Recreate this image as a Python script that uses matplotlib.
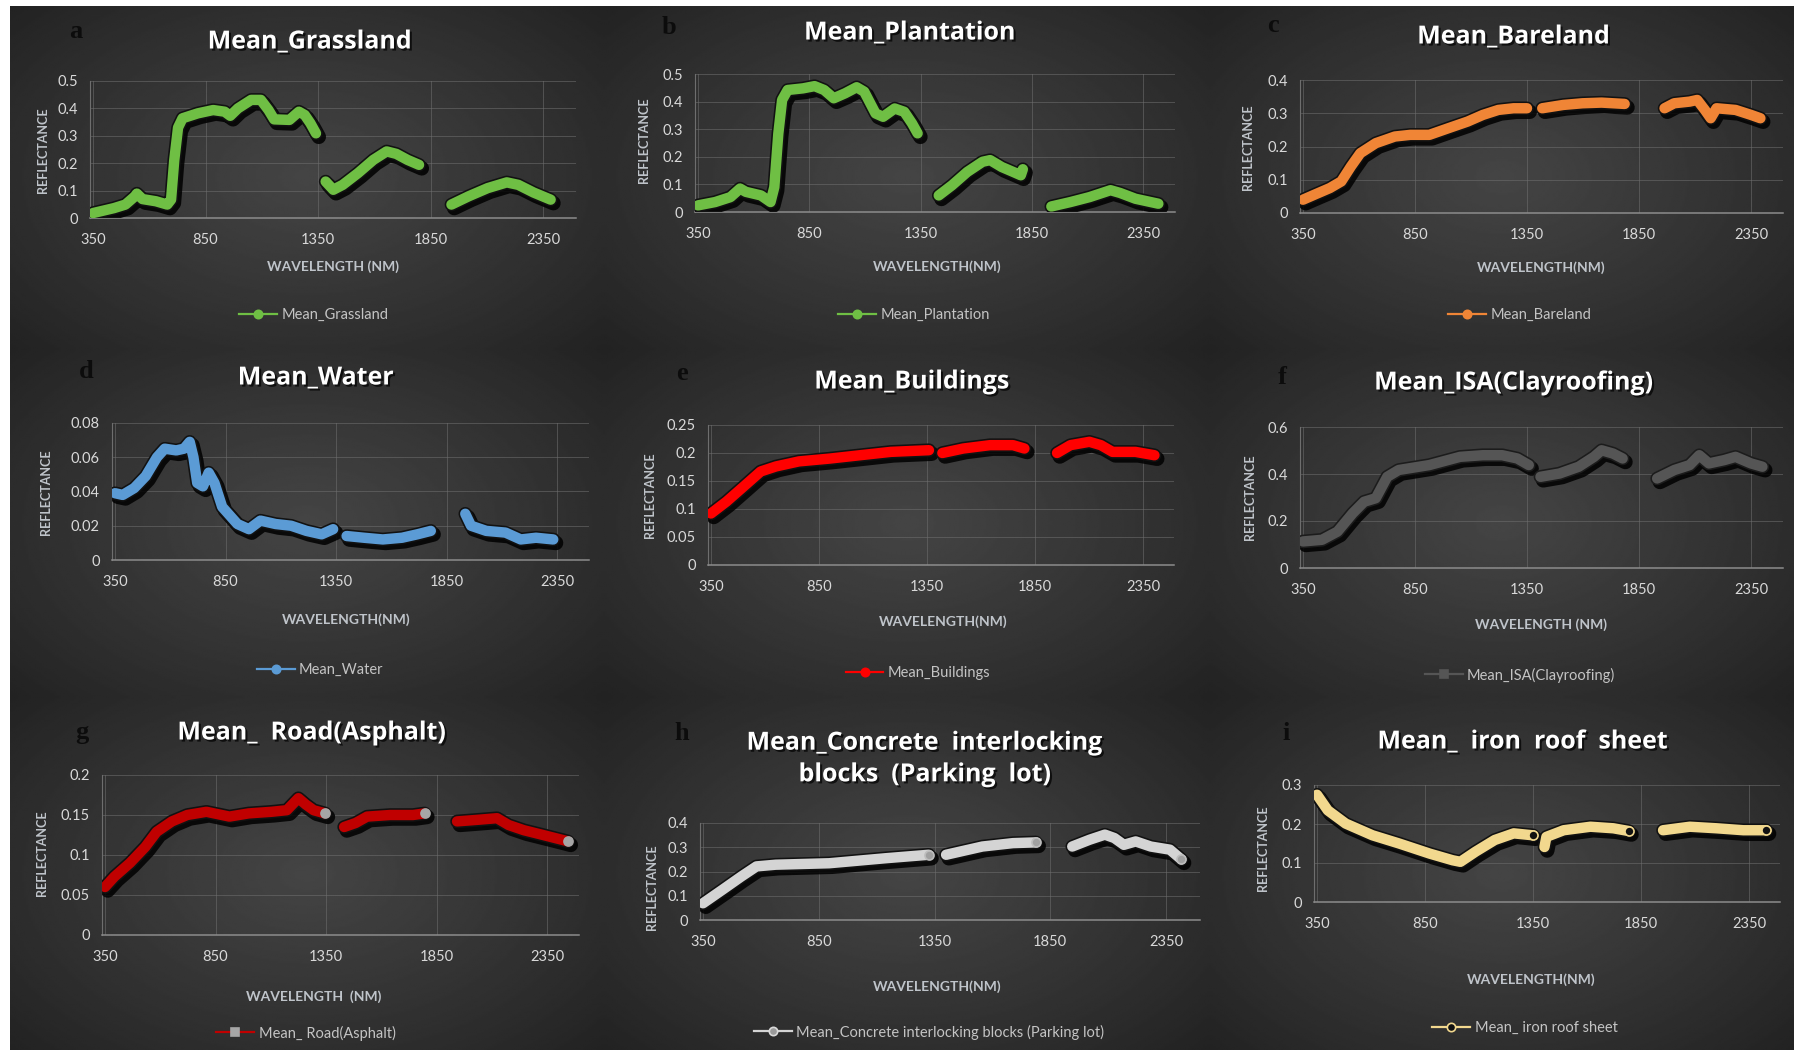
import numpy as np
import matplotlib
matplotlib.use('Agg')
import matplotlib.pyplot as plt
import matplotlib.patheffects as pe
from matplotlib.lines import Line2D

nan = np.nan
W, H = 1794, 1050

# mean reflectance spectra, NaN marks the removed water absorption bands
grass_wl = [350, 443, 494, 536, 545, 570, 630, 680, 697, 711, 728, 748, 816, 884, 935, 960, 994, 1053, 1096, 1130,
            1155, 1223, 1265, 1291, 1316, 1341, nan,
            1384, 1418, 1460, 1528, 1596, 1655, 1698, 1748, 1799, nan,
            1943, 2019, 2104, 2189, 2240, 2308, 2384]
grass_refl = [0.018, 0.036, 0.049, 0.079, 0.089, 0.069, 0.061, 0.049, 0.067, 0.21, 0.33, 0.364, 0.382, 0.394, 0.388,
              0.373, 0.40, 0.431, 0.431, 0.394, 0.36, 0.358, 0.388, 0.376, 0.346, 0.309, nan,
              0.133, 0.103, 0.121, 0.164, 0.212, 0.243, 0.234, 0.212, 0.194, nan,
              0.049, 0.079, 0.109, 0.13, 0.121, 0.093, 0.067]

plant_wl = [350, 427, 496, 539, 565, 633, 676, 693, 711, 728, 753, 822, 874, 917, 960, 1011, 1063, 1097, 1148, 1182,
            1234, 1277, 1312, 1337, nan,
            1432, 1492, 1560, 1629, 1663, 1715, 1767, 1801, 1810, nan,
            1938, 2024, 2110, 2204, 2247, 2316, 2419]
plant_refl = [0.024, 0.036, 0.054, 0.085, 0.073, 0.06, 0.036, 0.09, 0.284, 0.406, 0.442, 0.448, 0.456, 0.442, 0.412,
              0.43, 0.452, 0.436, 0.357, 0.345, 0.375, 0.363, 0.321, 0.285, nan,
              0.06, 0.097, 0.145, 0.182, 0.188, 0.163, 0.145, 0.133, 0.155, nan,
              0.02, 0.036, 0.054, 0.079, 0.069, 0.048, 0.03]

bare_wl = [350, 401, 470, 521, 564, 606, 675, 760, 829, 914, 999, 1085, 1153, 1222, 1290, 1350, nan,
           1418, 1512, 1598, 1683, 1786, nan,
           1964, 2007, 2076, 2110, 2144, 2170, 2196, 2281, 2350, 2392]
bare_refl = [0.04, 0.055, 0.075, 0.095, 0.14, 0.18, 0.21, 0.23, 0.235, 0.235, 0.255, 0.275, 0.295, 0.31, 0.315, 0.315,
             nan,
             0.315, 0.325, 0.33, 0.332, 0.328, nan,
             0.315, 0.33, 0.335, 0.34, 0.31, 0.285, 0.315, 0.31, 0.295, 0.285]

water_wl = [350, 385, 437, 489, 540, 575, 627, 662, 688, 705, 722, 748, 774, 800, 835, 904, 956, 1008, 1077, 1147,
            1216, 1285, 1337, nan,
            1398, 1476, 1562, 1649, 1718, 1779, nan,
            1935, 1961, 2030, 2117, 2186, 2255, 2333]
water_refl = [0.039, 0.038, 0.042, 0.049, 0.06, 0.065, 0.064, 0.065, 0.069, 0.06, 0.045, 0.043, 0.051, 0.045, 0.031,
              0.021, 0.018, 0.023, 0.021, 0.02, 0.017, 0.015, 0.018, nan,
              0.014, 0.013, 0.012, 0.013, 0.015, 0.017, nan,
              0.027, 0.02, 0.017, 0.016, 0.012, 0.013, 0.012]

build_wl = [350, 421, 492, 580, 651, 757, 899, 1040, 1182, 1359, nan,
            1421, 1518, 1642, 1748, 1801, nan,
            1952, 2014, 2102, 2155, 2209, 2315, 2403]
build_refl = [0.092, 0.113, 0.137, 0.167, 0.176, 0.185, 0.19, 0.196, 0.202, 0.205, nan,
              0.2, 0.208, 0.214, 0.214, 0.208, nan,
              0.2, 0.214, 0.22, 0.214, 0.202, 0.202, 0.196]

isa_wl = [350, 435, 504, 572, 623, 675, 726, 777, 914, 1051, 1153, 1239, 1307, 1358, nan,
          1410, 1495, 1581, 1649, 1683, 1734, 1777, nan,
          1931, 2008, 2076, 2119, 2162, 2230, 2281, 2350, 2401]
isa_refl = [0.113, 0.12, 0.155, 0.233, 0.282, 0.297, 0.388, 0.417, 0.438, 0.473, 0.48, 0.48, 0.466, 0.438, nan,
            0.388, 0.402, 0.431, 0.473, 0.501, 0.487, 0.466, nan,
            0.381, 0.417, 0.438, 0.48, 0.445, 0.459, 0.473, 0.445, 0.431]

road_wl = [350, 393, 463, 532, 584, 653, 722, 809, 913, 1000, 1103, 1173, 1225, 1259, 1294, 1346, nan,
           1432, 1484, 1536, 1640, 1744, 1796, nan,
           1943, 2037, 2124, 2176, 2245, 2332, 2418, 2445]
road_refl = [0.06, 0.073, 0.09, 0.11, 0.129, 0.142, 0.15, 0.154, 0.148, 0.152, 0.154, 0.156, 0.171, 0.163, 0.156,
             0.152, nan,
             0.135, 0.14, 0.148, 0.15, 0.15, 0.152, nan,
             0.142, 0.144, 0.146, 0.1375, 0.131, 0.125, 0.119, 0.117]

conc_wl = [350, 433, 515, 581, 664, 895, 1143, 1325, nan,
           1400, 1557, 1689, 1788, nan,
           1945, 2020, 2086, 2127, 2168, 2219, 2284, 2367, 2416]
conc_refl = [0.069, 0.124, 0.179, 0.221, 0.228, 0.234, 0.255, 0.269, nan,
             0.269, 0.303, 0.317, 0.32, nan,
             0.303, 0.331, 0.352, 0.338, 0.31, 0.324, 0.303, 0.29, 0.25]

iron_wl = [350, 400, 483, 607, 730, 872, 978, 1014, 1084, 1173, 1261, 1350, nan,
           1403, 1412, 1492, 1616, 1722, 1793, nan,
           1952, 2076, 2200, 2324, 2430]
iron_refl = [0.275, 0.235, 0.201, 0.171, 0.15, 0.124, 0.107, 0.103, 0.129, 0.159, 0.176, 0.171, nan,
             0.141, 0.167, 0.184, 0.193, 0.189, 0.182, nan,
             0.184, 0.193, 0.189, 0.184, 0.184]

wl_ticks = [350, 850, 1350, 1850, 2350]

panels = [
    dict(tag='a', wl=grass_wl, refl=grass_refl, title='Mean_Grassland', label='Mean_Grassland',
         xlabel='WAVELENGTH (NM)', color='#6fbf44', ymax=0.5, ystep=0.1,
         cell=(10, 6, 604, 349), x350=93, x2350=543, y0=218, ytop=81,
         t=(310, 42), l=(76, 31), xl=(333, 267), yl=(43, 150), lg=(314, 315)),
    dict(tag='b', wl=plant_wl, refl=plant_refl, title='Mean_Plantation', label='Mean_Plantation',
         xlabel='WAVELENGTH(NM)', color='#6fbf44', ymax=0.5, ystep=0.1,
         cell=(604, 6, 1210, 349), x350=698, x2350=1143, y0=212, ytop=74,
         t=(910, 33), l=(669, 27), xl=(937, 267), yl=(644, 140), lg=(914, 315)),
    dict(tag='c', wl=bare_wl, refl=bare_refl, title='Mean_Bareland', label='Mean_Bareland',
         xlabel='WAVELENGTH(NM)', color='#f08536', ymax=0.4, ystep=0.1,
         cell=(1210, 6, 1794, 349), x350=1303, x2350=1751, y0=213, ytop=80,
         t=(1514, 37), l=(1273, 25), xl=(1541, 268), yl=(1248, 147), lg=(1520, 315)),
    dict(tag='d', wl=water_wl, refl=water_refl, title='Mean_Water', label='Mean_Water',
         xlabel='WAVELENGTH(NM)', color='#5b9bd5', ymax=0.08, ystep=0.02,
         cell=(10, 349, 604, 697), x350=115, x2350=557, y0=560, ytop=423,
         t=(316, 378), l=(86, 372), xl=(346, 620), yl=(46, 492), lg=(320, 670)),
    dict(tag='e', wl=build_wl, refl=build_refl, title='Mean_Buildings', label='Mean_Buildings',
         xlabel='WAVELENGTH(NM)', color='#ff0000', ymax=0.25, ystep=0.05,
         cell=(604, 349, 1210, 697), x350=711, x2350=1143, y0=565, ytop=425,
         t=(912, 382), l=(682, 373), xl=(943, 622), yl=(650, 495), lg=(918, 673)),
    dict(tag='f', wl=isa_wl, refl=isa_refl, title='Mean_ISA(Clayroofing)', label='Mean_ISA(Clayroofing)',
         xlabel='WAVELENGTH (NM)', color='#555555', ymax=0.6, ystep=0.2,
         cell=(1210, 349, 1794, 697), x350=1303, x2350=1751, y0=568, ytop=427,
         t=(1514, 383), l=(1282, 377), xl=(1541, 625), yl=(1250, 497), lg=(1520, 675)),
    dict(tag='g', wl=road_wl, refl=road_refl, title='Mean_  Road(Asphalt)', label='Mean_ Road(Asphalt)',
         xlabel='WAVELENGTH  (NM)', color='#c00000', ymax=0.2, ystep=0.05,
         cell=(10, 697, 604, 1050), x350=105, x2350=547, y0=935, ytop=775,
         t=(312, 733), l=(82, 732), xl=(314, 997), yl=(42, 853), lg=(306, 1033)),
    dict(tag='h', wl=conc_wl, refl=conc_refl, title='Mean_Concrete  interlocking\nblocks  (Parking  lot)',
         label='Mean_Concrete interlocking blocks (Parking lot)',
         xlabel='WAVELENGTH(NM)', color='#d4d4d4', ymax=0.4, ystep=0.1,
         cell=(604, 697, 1210, 1050), x350=703, x2350=1166, y0=920, ytop=823,
         t=(925, 759), l=(682, 733), xl=(937, 987), yl=(652, 887), lg=(929, 1032)),
    dict(tag='i', wl=iron_wl, refl=iron_refl, title='Mean_  iron  roof  sheet', label='Mean_ iron roof sheet',
         xlabel='WAVELENGTH(NM)', color='#f2d88e', ymax=0.3, ystep=0.1,
         cell=(1210, 697, 1794, 1050), x350=1317, x2350=1749, y0=902, ytop=785,
         t=(1523, 742), l=(1286, 733), xl=(1531, 980), yl=(1263, 848), lg=(1525, 1028)),
]

# legend marker styles, Excel-like
leg_style = {
    'a': dict(marker='o', mfc='#6fbf44', mec='#6fbf44'),
    'b': dict(marker='o', mfc='#6fbf44', mec='#6fbf44'),
    'c': dict(marker='o', mfc='#f08536', mec='#f08536'),
    'd': dict(marker='o', mfc='#5b9bd5', mec='#5b9bd5'),
    'e': dict(marker='o', mfc='#ff0000', mec='#ff0000'),
    'f': dict(marker='s', mfc='#555555', mec='#555555'),
    'g': dict(marker='s', mfc='#a6a6a6', mec='#a6a6a6'),
    'h': dict(marker='o', mfc='#9a9a9a', mec='#d9d9d9'),
    'i': dict(marker='o', mfc='#111111', mec='#f2d88e'),
}
end_marker = {'g': ('#a6a6a6', '#a6a6a6'), 'h': ('#a0a0a0', '#bdbdbd'), 'i': ('#111111', '#f2d88e')}

XL, XR = 338, 2495
SANS = ['Lato', 'DejaVu Sans']
TITLE_FONT = ['Open Sans', 'DejaVu Sans']

fig = plt.figure(figsize=(W / 100, H / 100), dpi=100, facecolor='white')


def fx(x):
    return x / W


def fy(y):
    return 1 - y / H


def panel_bg(cell):
    x0, y0, x1, y1 = cell
    ax = fig.add_axes([fx(x0), fy(y1), (x1 - x0) / W, (y1 - y0) / H], zorder=0)
    yy, xx = np.mgrid[0:1:220j, 0:1:320j]
    r = np.sqrt(((xx - 0.5) / 0.7) ** 2 + ((yy - 0.5) / 0.75) ** 2)
    v = 0.13 + 0.14 * np.clip(1 - r, 0, 1) ** 0.9
    ax.imshow(v, cmap='gray', vmin=0, vmax=1, extent=(0, 1, 0, 1), aspect='auto',
              interpolation='bilinear')
    ax.set_axis_off()


def seg_ends(wl, refl):
    wl = np.asarray(wl, float)
    refl = np.asarray(refl, float)
    ok = ~np.isnan(refl)
    last = ok & ~np.append(ok[1:], False)
    return wl[last], refl[last]


for p in panels:
    panel_bg(p['cell'])

    s = (p['x2350'] - p['x350']) / 2000.0
    left = p['x350'] - (350 - XL) * s
    right = p['x350'] + (XR - 350) * s
    ax = fig.add_axes([fx(left), fy(p['y0']), (right - left) / W, (p['y0'] - p['ytop']) / H], zorder=1)
    ax.set_facecolor('none')
    ax.set_xlim(XL, XR)
    ax.set_ylim(0, p['ymax'])

    yt = np.round(np.arange(0, p['ymax'] + 1e-9, p['ystep']), 3)
    ax.set_yticks(yt)
    ax.set_yticklabels(['%g' % v for v in yt])
    ax.set_xticks(wl_ticks)
    ax.set_xticklabels([str(v) for v in wl_ticks])
    ax.tick_params(length=0, colors='#d9d9d9', labelsize=10.5, pad=9)
    for lab in ax.get_xticklabels() + ax.get_yticklabels():
        lab.set_family(SANS)
    ax.tick_params(axis='x', pad=11)

    ax.grid(True, color='#707070', lw=0.7, alpha=0.55)
    ax.set_axisbelow(True)
    for side in ('top', 'right'):
        ax.spines[side].set_visible(False)
    ax.spines['bottom'].set_color('#8c8c8c')
    ax.spines['bottom'].set_linewidth(1.1)
    ax.spines['left'].set_color('#6e6e6e')
    ax.spines['left'].set_linewidth(0.8)

    edge = '#121212' if p['tag'] != 'f' else '#1c1c1c'
    ax.plot(p['wl'], p['refl'], color=p['color'], lw=7.5, solid_capstyle='round', solid_joinstyle='round',
            zorder=3, path_effects=[pe.SimpleLineShadow(offset=(2, -2.5), shadow_color='black', alpha=0.85,
                                                        linewidth=10.5),
                                    pe.Stroke(linewidth=9.8, foreground=edge), pe.Normal()])
    if p['tag'] in end_marker:
        fc, ec = end_marker[p['tag']]
        ex, ey = seg_ends(p['wl'], p['refl'])
        ax.plot(ex, ey, ls='none', marker='o', ms=6.5, mfc=fc, mec=ec, mew=1.2, zorder=4)

    # titles, panel letters and axis labels
    fig.text(fx(p['t'][0]), fy(p['t'][1]), p['title'], ha='center', va='center', color='white',
             fontsize=18, fontweight='bold', family=TITLE_FONT, linespacing=1.35,
             path_effects=[pe.SimplePatchShadow(offset=(1.5, -1.5), shadow_rgbFace='black', alpha=0.7),
                           pe.Normal()])
    fig.text(fx(p['l'][0]), fy(p['l'][1]), p['tag'], ha='center', va='center', color='#0c0c0c',
             fontsize=19, fontweight='bold', family='Liberation Serif')
    fig.text(fx(p['xl'][0]), fy(p['xl'][1]), p['xlabel'], ha='center', va='center', color='#bfc4ca',
             fontsize=10, fontweight='bold', family=SANS)
    fig.text(fx(p['yl'][0]), fy(p['yl'][1]), 'REFLECTANCE', ha='center', va='center', color='#bfc4ca',
             fontsize=9, fontweight='bold', family=SANS, rotation=90)

    st = leg_style[p['tag']]
    handle = Line2D([], [], color=p['color'], lw=1.6, marker=st['marker'], ms=6,
                    mfc=st['mfc'], mec=st['mec'], mew=1.2)
    leg = fig.legend([handle], [p['label']], loc='center', bbox_to_anchor=(fx(p['lg'][0]), fy(p['lg'][1])),
                     bbox_transform=fig.transFigure, frameon=False, handlelength=2.6, handletextpad=0.3,
                     prop={'family': SANS, 'size': 10.5})
    for txt in leg.get_texts():
        txt.set_color('#c4c4c4')

fig.savefig('out.png', dpi=100, facecolor='white')
